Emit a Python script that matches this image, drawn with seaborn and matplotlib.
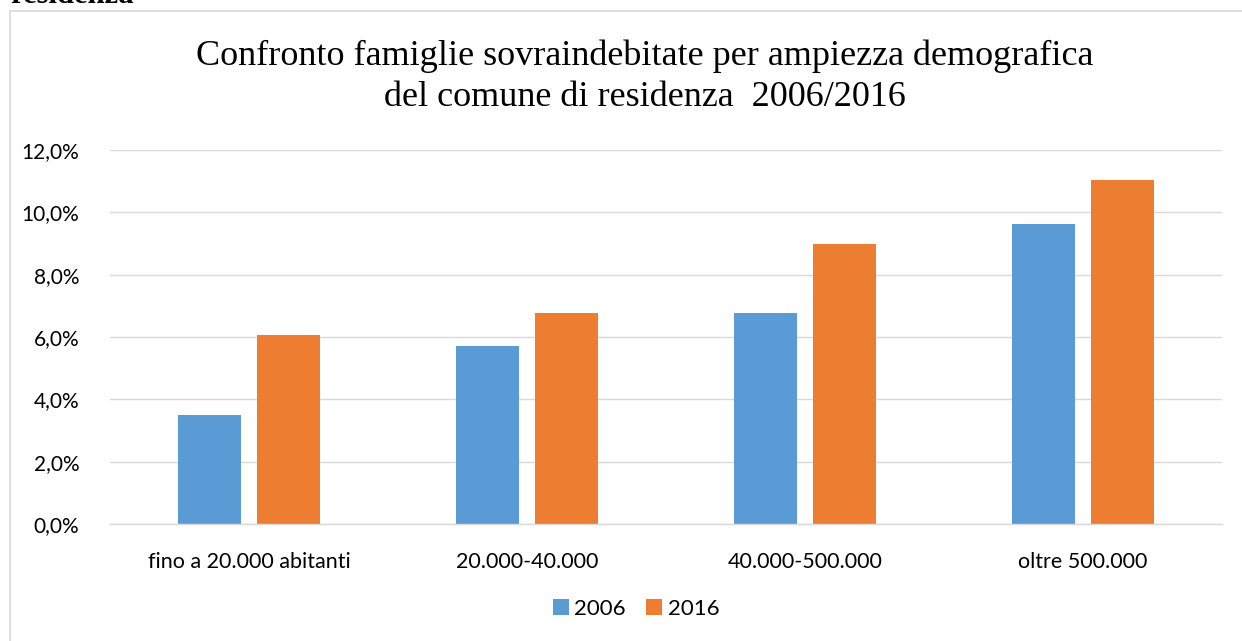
import pandas as pd
import matplotlib
matplotlib.use('Agg')
import matplotlib.pyplot as plt
from matplotlib.patches import Rectangle
from matplotlib.ticker import FuncFormatter
import seaborn as sns

# dati
categorie = ["fino a 20.000 abitanti", "20.000-40.000", "40.000-500.000", "oltre 500.000"]
anni = ["2006", "2016"]
valori_2006 = [3.5, 5.72, 6.77, 9.62]
valori_2016 = [6.05, 6.78, 8.97, 11.03]
colori = ["#5B9BD5", "#ED7D31"]

df = pd.DataFrame({
    "Comune": categorie * 2,
    "Anno": [anni[0]] * 4 + [anni[1]] * 4,
    "Valore": valori_2006 + valori_2016,
})

sns.set_theme(style="white")
plt.rcParams['font.family'] = ['Lato', 'DejaVu Sans']
plt.rcParams['text.color'] = 'black'

fig = plt.figure(figsize=(12.42, 6.41), dpi=100)
ax = fig.add_axes([110 / 1242, 1 - 524 / 641, 1112 / 1242, 374 / 641])

sns.barplot(data=df, x="Comune", y="Valore", hue="Anno", palette=colori,
            width=0.57, gap=0.21, ax=ax, legend=True, saturation=1, linewidth=0)

ax.set_ylim(0, 12)
ax.set_xlim(-0.5, 3.5)
ax.set_yticks(range(0, 13, 2))
ax.yaxis.set_major_formatter(FuncFormatter(lambda v, p: f"{v:.1f}%".replace('.', ',')))
ax.grid(axis='y', color='#D9D9D9', linewidth=1)
ax.set_axisbelow(True)
for s in ['top', 'right', 'left']:
    ax.spines[s].set_visible(False)
ax.spines['bottom'].set_color('#D9D9D9')
ax.spines['bottom'].set_linewidth(1)
ax.tick_params(axis='x', length=0, labelsize=15.5, colors='black', pad=20)
ax.tick_params(axis='y', length=0, labelsize=15, colors='black', pad=22)
ax.set_xlabel("")
ax.set_ylabel("")

ax.legend(loc='center', bbox_to_anchor=(636 / 1242, 1 - 609 / 641),
          bbox_transform=fig.transFigure, ncol=2, frameon=False,
          fontsize=16, handlelength=0.72, handleheight=0.72, handletextpad=0.25,
          columnspacing=0.9)

# titolo
fig.text(645 / 1242, 1 - 56 / 641, "Confronto famiglie sovraindebitate per ampiezza demografica",
         ha='center', va='center', fontsize=26, family='Liberation Serif', color='black')
fig.text(645 / 1242, 1 - 98 / 641, "del comune di residenza  2006/2016",
         ha='center', va='center', fontsize=26, family='Liberation Serif', color='black')

# cornice del grafico e testo del documento tagliato
fig.patches.append(Rectangle((10 / 1242, -0.1), 1.2, 1.1 - 11 / 641,
                             transform=fig.transFigure, fill=False,
                             edgecolor='#D9D9D9', linewidth=1.2))
fig.text(10 / 1242, 1 - 3 / 641, "residenza", ha='left', va='baseline',
         fontsize=22, fontweight='bold', family='Liberation Serif', color='black')

fig.savefig('out.png', dpi=100)
